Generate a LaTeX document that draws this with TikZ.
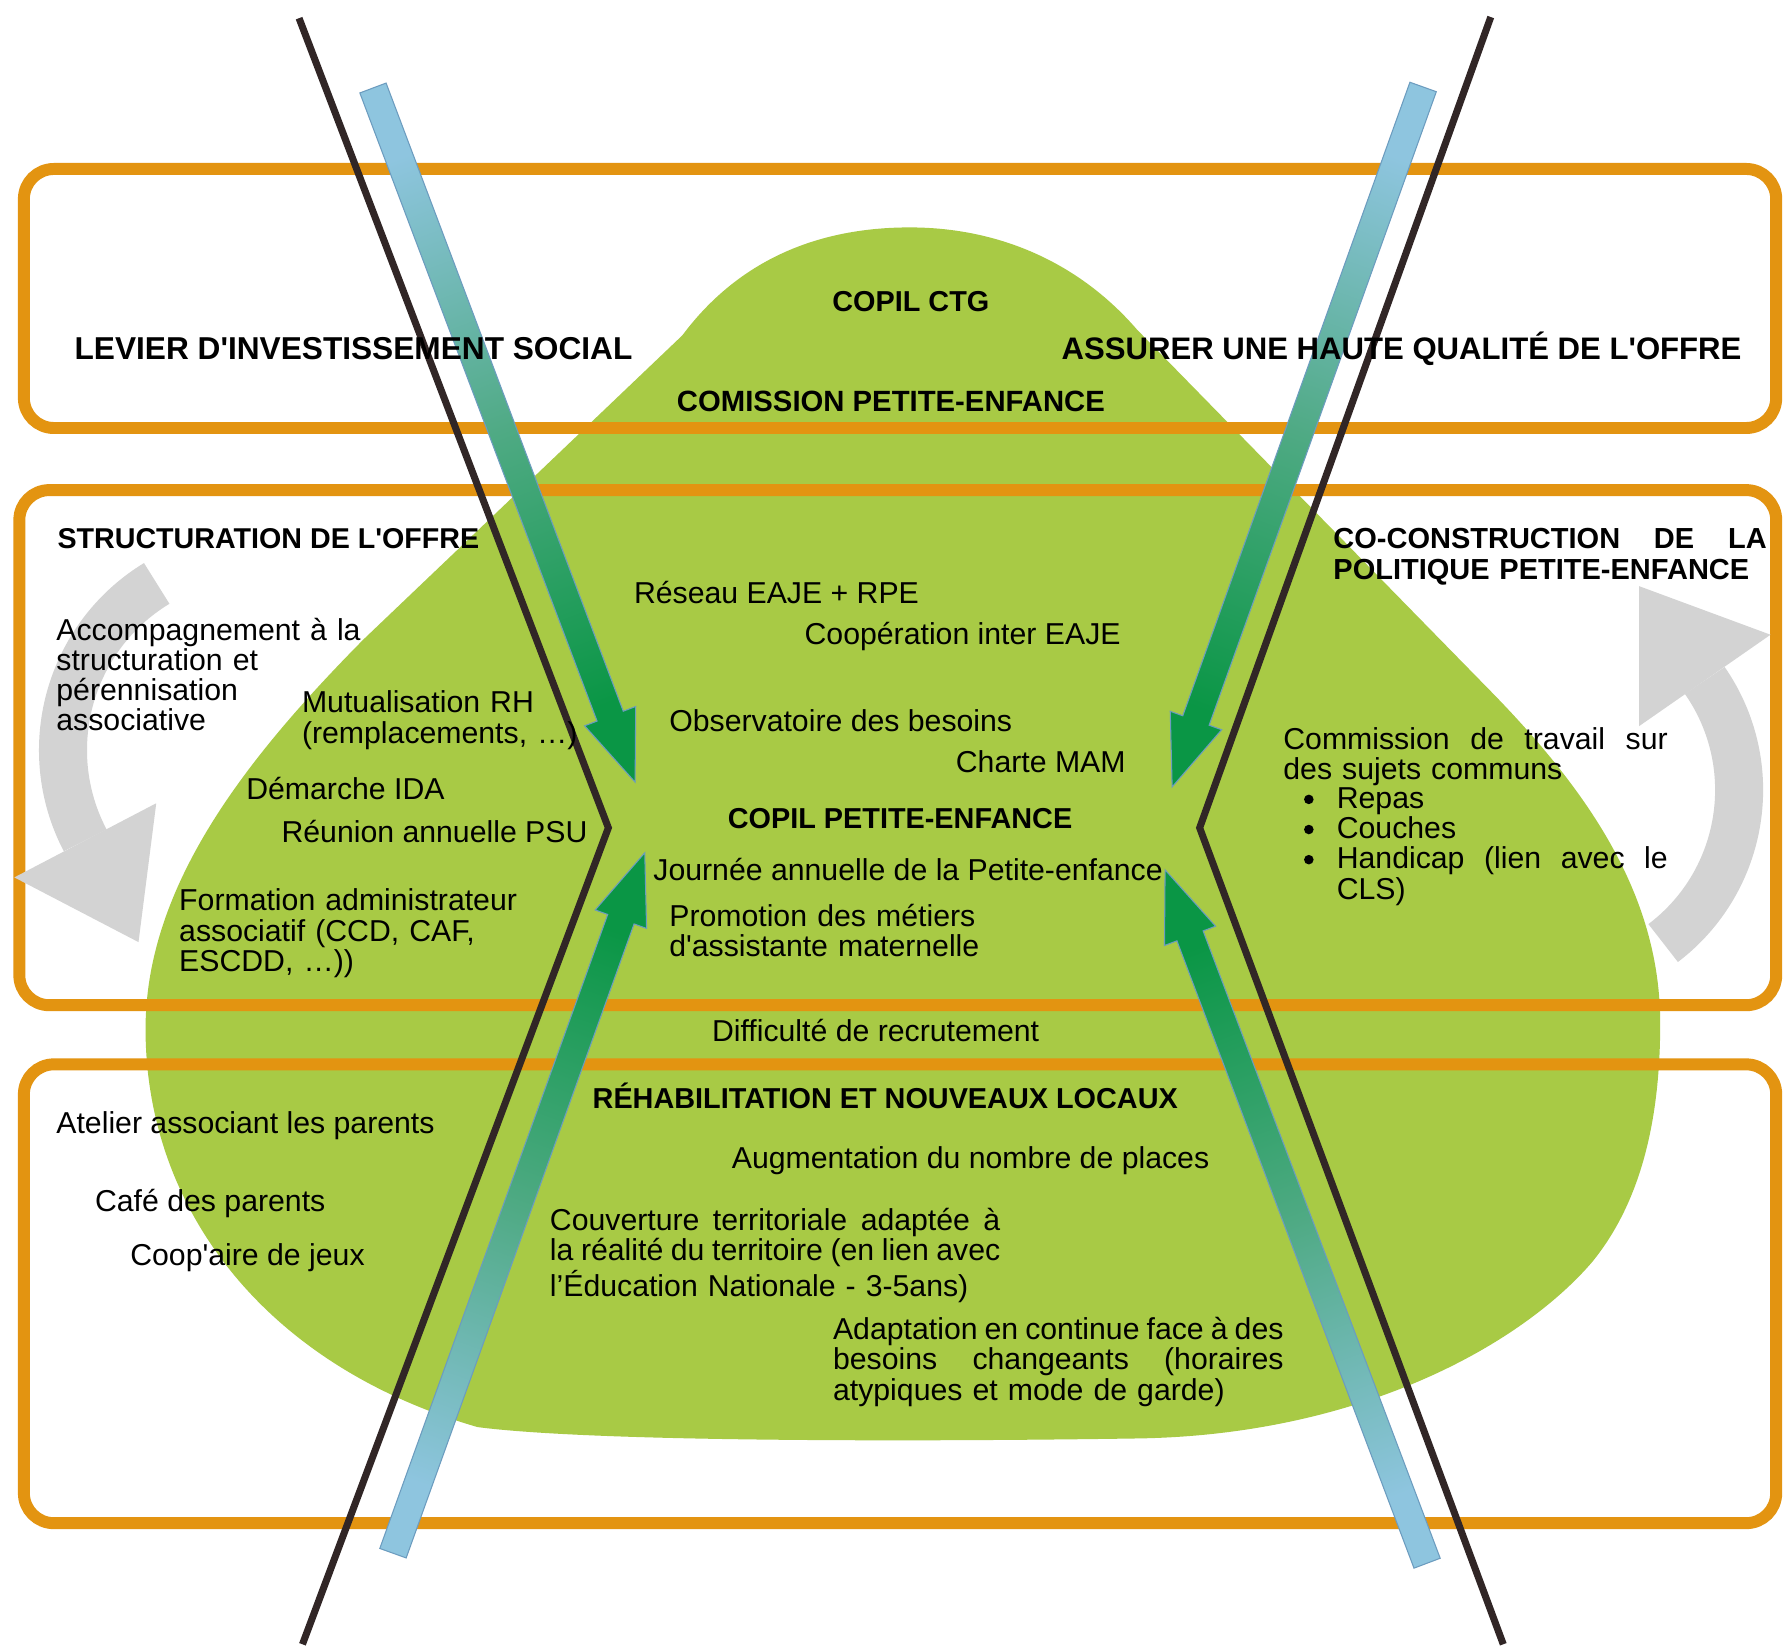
\documentclass[tikz,border=0pt]{standalone}
\usepackage{fontspec}
\setmainfont{Liberation Sans}
\usetikzlibrary{calc}
\definecolor{blobgreen}{HTML}{A8CA45}
\definecolor{boxorange}{HTML}{E39411}
\definecolor{linebrown}{HTML}{312626}
\definecolor{arcgrey}{HTML}{D3D3D3}
\definecolor{arrowblue}{HTML}{8EC5DF}
\definecolor{arrowteal}{HTML}{4FAA84}
\definecolor{arrowgreen}{HTML}{0A9645}
\definecolor{arrowedge}{HTML}{6C9CBF}
\newcommand\jline[2]{\leavevmode\hbox to #1{#2}}
\tikzset{
  body/.style={font=\fontsize{8.6}{8.6}\selectfont, inner sep=0pt, anchor=base west},
  block/.style={body, text width=#1, align=left},
  block/.default=4.6cm,
  hd/.style={font=\fontsize{#1}{9}\selectfont\bfseries, inner sep=0pt, anchor=base west},
  hdc/.style={hd=#1, anchor=base},
  frame/.style={draw=boxorange, line width=3.4pt, rounded corners=0.3cm},
  divider/.style={draw=linebrown, line width=2pt},
  greyarc/.style={draw=arcgrey, line width=0.48cm},
  greyhead/.style={fill=arcgrey},
  bulletdot/.style={fill=black},
  flow/.style={draw=arrowedge, line width=0.3pt, top color=arrowgreen, bottom color=arrowblue, middle color=arrowteal, shading angle=#1},
}
\newcommand\flowarrow[3]{%
  \coordinate (fh) at ($(#2)!0.705cm!(#1)$);
  \path[flow=#3]
    ($(#1)!0.14cm!90:(#2)$) -- ($(fh)!0.14cm!-90:(#1)$) -- ($(fh)!0.273cm!-90:(#1)$) -- (#2)
    -- ($(fh)!0.273cm!90:(#1)$) -- ($(fh)!0.14cm!90:(#1)$) -- ($(#1)!0.14cm!-90:(#2)$) -- cycle;
}
\begin{document}
\begin{tikzpicture}[x=0.011371cm, y=-0.011371cm]
\useasboundingbox (0,0) rectangle (1568,1446.7);
\fill[white] (0,0) rectangle (1568,1446.7);

% green blob
\fill[blobgreen] (600,295) -- (320,562) .. controls (215,668) and (128,780) .. (128,905)
  .. controls (128,1060) and (230,1200) .. (420,1255)
  .. controls (520,1268) and (800,1268) .. (1000,1265)
  .. controls (1200,1262) and (1340,1180) .. (1400,1110)
  .. controls (1445,1055) and (1460,980) .. (1460,900)
  .. controls (1460,790) and (1400,700) .. (1315,612)
  -- (1000,290) .. controls (950,232) and (880,200) .. (800,200)
  .. controls (720,200) and (650,228) .. (600,295) -- cycle;

% orange frames
\draw[frame] (21,148.6) rectangle (1562,376.4);
\draw[frame] (17,431) rectangle (1562,884);
\draw[frame] (21,936) rectangle (1562,1339.5);

% grey circular arrows
\coordinate (gc1) at (226.9,659.6);
\draw[greyarc] ($(gc1)+(-121.3:171.5)$) arc[start angle=-121.3, end angle=-207.6, radius=171.5];
\fill[greyhead] (12.6,771.6) -- (121.8,828.5) -- (137.4,706.4) -- cycle;
\coordinate (gc2) at (1360.5,694.8);
\draw[greyarc] ($(gc2)+(52.8:168.9)$) arc[start angle=52.8, end angle=-34.8, radius=168.9];
\fill[greyhead] (1557.0,558.2) -- (1441.5,515.5) -- (1441.4,638.6) -- cycle;

% dividing chevrons
\coordinate (ltop) at (263,16); \coordinate (lmid) at (535,728); \coordinate (lbot) at (266,1446);
\coordinate (rtop) at (1311,15); \coordinate (rmid) at (1055,728); \coordinate (rbot) at (1322,1446);
\draw[divider] (ltop) -- (lmid) -- (lbot);
\draw[divider] (rtop) -- (rmid) -- (rbot);

% flow arrows
\coordinate (a1t) at (328,77.4);    \coordinate (a1p) at (558.5,687.8);
\coordinate (a2t) at (1251.5,76.5); \coordinate (a2p) at (1030.8,692);
\coordinate (a3t) at (345.6,1365.9);\coordinate (a3p) at (567,750);
\coordinate (a4t) at (1255,1374.7); \coordinate (a4p) at (1024.6,765);
\flowarrow{a1t}{a1p}{-159.4}
\flowarrow{a2t}{a2p}{160.1}
\flowarrow{a3t}{a3p}{-19.8}
\flowarrow{a4t}{a4p}{20.6}

% headings
\node[hd=9] (levier) at (65,316) {LEVIER D\textquotesingle INVESTISSEMENT SOCIAL};
\node[hd=8.85] (assurer) at (933,316) {ASSURER UNE HAUTE QUALITÉ DE L\textquotesingle OFFRE};
\node[hdc=8.2] (copilctg) at (801,274) {COPIL CTG};
\node[hdc=8.33] (comission) at (783.5,362) {COMISSION PETITE-ENFANCE};
\node[hd=8.15] (structuration) at (50,482) {STRUCTURATION DE L\textquotesingle OFFRE};
\node[hd=8.25, text width=4.4cm, align=left] (coconst) at (1172,482) {\jline{4.332cm}{CO-CONSTRUCTION\hfill DE\hfill LA}\\POLITIQUE PETITE-ENFANCE};
\node[hdc=8.2] (copilpe) at (791.5,729) {COPIL PETITE-ENFANCE};
\node[hdc=8.2] (rehab) at (778.5,975) {RÉHABILITATION ET NOUVEAUX LOCAUX};

% body texts
\node[block=3.2cm] (accomp) at (49,563) {Accompagnement à la\\structuration et\\pérennisation\\associative};
\node[block=2.9cm] (mutual) at (265,627) {Mutualisation RH\\(remplacements, …)};
\node[body] (ida) at (216,703) {Démarche IDA};
\node[body] (psu) at (247,741) {Réunion annuelle PSU};
\node[block=3.8cm] (formation) at (157,801) {Formation administrateur\\associatif (CCD, CAF,\\ESCDD, …))};
\node[body] (reseau) at (557,531) {Réseau EAJE + RPE};
\node[body] (coop) at (707,567) {Coopération inter EAJE};
\node[body] (obs) at (588,643) {Observatoire des besoins};
\node[body] (mam) at (840,679) {Charte MAM};
\node[body] (journee) at (574,774) {Journée annuelle de la Petite-enfance};
\node[block=3.2cm] (promo) at (588,815) {\jline{3.059cm}{Promotion\hfill des\hfill métiers}\\d\textquotesingle assistante maternelle};
\node[body, anchor=base] (recrut) at (770,916) {Difficulté de recrutement};
\node[body] (augm) at (643,1028) {Augmentation du nombre de places};
\node[block] (couv) at (483,1082) {\jline{4.503cm}{Couverture\hfill territoriale\hfill adaptée\hfill à}\\\jline{4.503cm}{la\hfill réalité\hfill du\hfill territoire\hfill (en\hfill lien\hfill avec}\\l’Éducation Nationale - 3-5ans)};
\node[block] (adapt) at (732,1178) {\jline{4.503cm}{Adaptation\hfill en\hfill continue\hfill face\hfill à\hfill des}\\\jline{4.503cm}{besoins\hfill changeants\hfill (horaires}\\atypiques et mode de garde)};
\node[block=3.9cm] (commission) at (1128,659) {\jline{3.843cm}{Commission\hfill de\hfill travail\hfill sur}\\des sujets communs};
\node[block=3.4cm] (items) at (1175,711) {Repas\\Couches\\\jline{3.309cm}{Handicap\hfill (lien\hfill avec\hfill le}\\CLS)};
\fill[bulletdot] (1151,703) circle[radius=4.2];
\fill[bulletdot] (1151,729.5) circle[radius=4.2];
\fill[bulletdot] (1151,756) circle[radius=4.2];
\node[body] (atelier) at (49,997) {Atelier associant les parents};
\node[body] (cafe) at (83,1065) {Café des parents};
\node[body] (jeux) at (114,1113) {Coop\textquotesingle aire de jeux};
\end{tikzpicture}
\end{document}
